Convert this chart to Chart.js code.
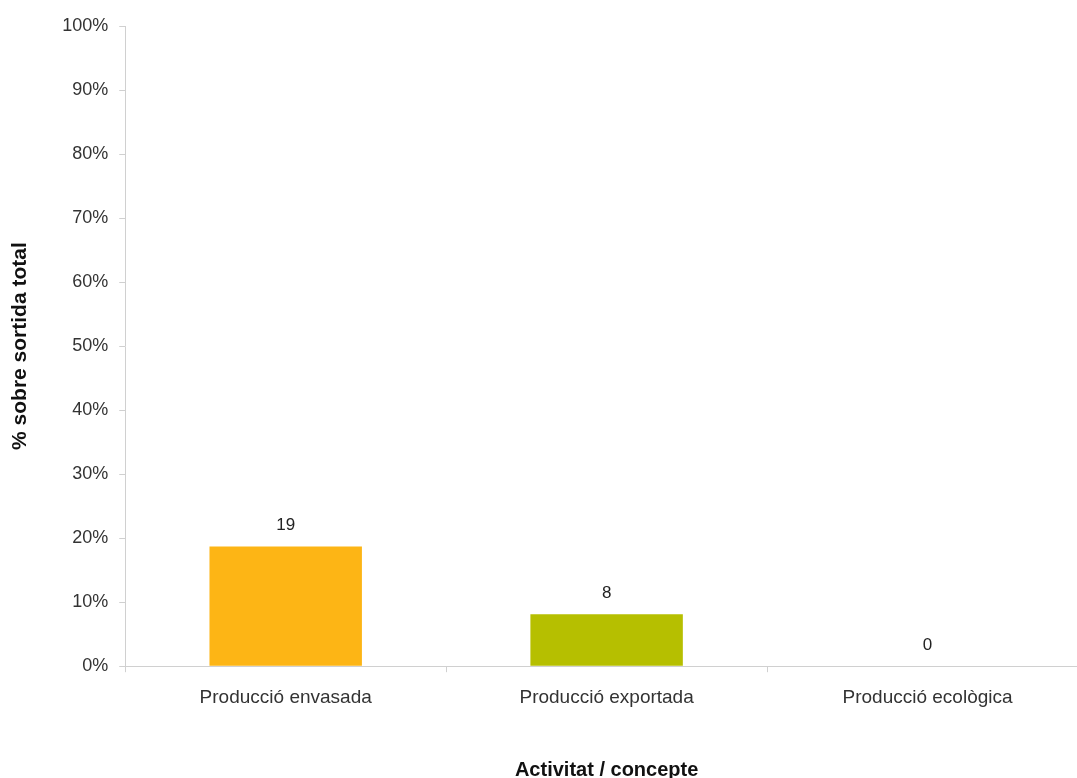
<!DOCTYPE html>
<html lang="ca">
<head>
    <meta charset="UTF-8">
    <title>% sobre sortida total</title>
    <script src="https://cdn.jsdelivr.net/npm/chart.js"></script>
    <style>
        html, body {
            margin: 0;
            padding: 0;
            background: #fff;
            overflow: hidden;
        }
        .wrap {
            width: 1090px;
            height: 778px;
        }
    </style>
</head>
<body>
    <div class="wrap"><canvas id="chart"></canvas></div>

    <script>
        const categories = ['Producció envasada', 'Producció exportada', 'Producció ecològica'];
        const values = [18.7, 8.1, 0];
        const barColors = ['#FDB515', '#B6BF00', '#9E9E9E'];
        const yTicks = [0, 10, 20, 30, 40, 50, 60, 70, 80, 90, 100];

        const FONT = '"Liberation Sans", Arial, sans-serif';

        // value labels above each bar
        const valueLabels = {
            id: 'valueLabels',
            afterDatasetsDraw(chart) {
                const ctx = chart.ctx;
                const meta = chart.getDatasetMeta(0);
                ctx.save();
                ctx.font = '17px ' + FONT;
                ctx.fillStyle = '#222';
                ctx.textAlign = 'center';
                ctx.textBaseline = 'middle';
                meta.data.forEach((bar, i) => {
                    ctx.fillText(Math.round(values[i]), bar.x, bar.y - 21);
                });
                ctx.restore();
            }
        };

        new Chart(document.getElementById('chart'), {
            type: 'bar',
            data: {
                labels: categories,
                datasets: [{
                    data: values,
                    backgroundColor: barColors,
                    categoryPercentage: 1,
                    barPercentage: 0.475
                }]
            },
            plugins: [valueLabels],
            options: {
                responsive: true,
                maintainAspectRatio: false,
                animation: false,
                layout: { padding: { top: 26, left: 8, right: 2, bottom: -4 } },
                plugins: {
                    legend: { display: false },
                    tooltip: { enabled: false }
                },
                scales: {
                    x: {
                        grid: {
                            offset: true,
                            drawOnChartArea: false,
                            tickLength: 6,
                            color: '#d0d0d0'
                        },
                        border: { color: '#d0d0d0' },
                        ticks: {
                            color: '#333',
                            font: { family: FONT, size: 19 },
                            padding: 14
                        },
                        title: {
                            display: true,
                            text: 'Activitat / concepte',
                            color: '#111',
                            font: { family: FONT, size: 20, weight: 'bold' },
                            padding: { top: 35, bottom: 0 }
                        }
                    },
                    y: {
                        min: 0,
                        max: 100,
                        afterBuildTicks(axis) {
                            axis.ticks = yTicks.map(v => ({ value: v }));
                        },
                        grid: {
                            drawOnChartArea: false,
                            tickLength: 6,
                            color: '#d0d0d0'
                        },
                        border: { color: '#d0d0d0' },
                        ticks: {
                            color: '#333',
                            font: { family: FONT, size: 18 },
                            padding: 11,
                            callback: v => v + '%'
                        },
                        title: {
                            display: true,
                            text: '% sobre sortida total',
                            color: '#111',
                            font: { family: FONT, size: 21, weight: 'bold' },
                            padding: { top: 0, bottom: 18 }
                        }
                    }
                }
            }
        });
    </script>
</body>
</html>
